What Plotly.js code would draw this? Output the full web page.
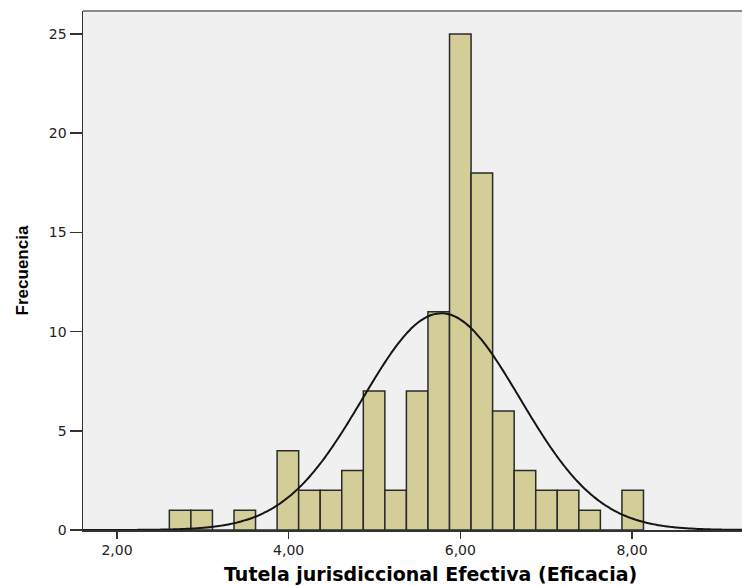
<!DOCTYPE html>
<html>
<head>
<meta charset="utf-8">
<script src="https://cdn.plot.ly/plotly-3.0.1.min.js"></script>
<style>html,body{margin:0;padding:0;background:#fff;}#chart{width:742px;height:586px;}</style>
</head>
<body>
<div id="chart"></div>
<script>
// ---- data ----
const binStart = 2.61;          // left edge of first bin
const binWidth = 0.2511;        // width of each bin
const counts = [1, 1, 0, 1, 0, 4, 2, 2, 3, 7, 2, 7, 11, 25, 18, 6, 3, 2, 2, 1, 0, 2];
const xTickVals = [2, 4, 6, 8];
const xTickText = ["2,00", "4,00", "6,00", "8,00"];
const yTickVals = [0, 5, 10, 15, 20, 25];
const xTitle = "Tutela jurisdiccional Efectiva (Eficacia)";
const yTitle = "Frecuencia";

// bin centres
const centers = counts.map((c, i) => binStart + binWidth * (i + 0.5));

// normal curve fitted to the histogram (mean / sd from the binned data)
const n = counts.reduce((a, b) => a + b, 0);
const mean = counts.reduce((s, c, i) => s + c * centers[i], 0) / n;
const sd = Math.sqrt(counts.reduce((s, c, i) => s + c * (centers[i] - mean) ** 2, 0) / (n - 1));
const xRange = [1.604, 9.282];
const curveX = [], curveY = [];
for (let k = 0; k <= 300; k++) {
  const x = xRange[0] + (xRange[1] - xRange[0]) * k / 300;
  curveX.push(x);
  curveY.push(n * binWidth / (sd * Math.sqrt(2 * Math.PI)) * Math.exp(-((x - mean) ** 2) / (2 * sd * sd)));
}

const traces = [
  {
    type: 'bar', x: centers, y: counts, width: binWidth,
    marker: {color: '#d3ce97', line: {color: '#2a2a2a', width: 1.5}},
    hoverinfo: 'x+y', showlegend: false
  },
  {
    type: 'scatter', mode: 'lines', x: curveX, y: curveY,
    line: {color: '#151515', width: 2, shape: 'spline'},
    hoverinfo: 'skip', showlegend: false
  }
];

const tickFont = {family: 'DejaVu Sans, Arial, sans-serif', size: 14, color: '#222'};

const layout = {
  width: 742, height: 586,
  margin: {l: 83, r: 0, t: 11, b: 56},
  paper_bgcolor: '#ffffff',
  plot_bgcolor: '#f0f0f0',
  bargap: 0,
  xaxis: {
    range: xRange, tickvals: xTickVals, ticktext: xTickText,
    ticks: 'outside', ticklen: 7, tickwidth: 1.5, tickcolor: '#333',
    showline: true, linecolor: '#333', linewidth: 1.5,
    showgrid: false, zeroline: false, tickfont: tickFont
  },
  yaxis: {
    range: [0, 26.16], tickvals: yTickVals,
    ticks: 'outside', ticklen: 12, tickwidth: 1.5, tickcolor: '#333',
    showline: true, linecolor: '#333', linewidth: 1.5,
    showgrid: false, zeroline: false, tickfont: tickFont,
    title: {text: yTitle, standoff: 16, font: {family: 'Liberation Sans, Arial, sans-serif', size: 17, color: '#000', weight: 'bold'}}
  },
  shapes: [
    {type: 'line', xref: 'paper', yref: 'paper', x0: 0, x1: 1, y0: 1, y1: 1, line: {color: '#8a8a8a', width: 2}}
  ],
  annotations: [
    {text: '<b>' + xTitle + '</b>', xref: 'paper', yref: 'paper', x: 0.528, y: 0, yshift: -44,
     xanchor: 'center', yanchor: 'middle', showarrow: false,
     font: {family: 'DejaVu Sans, Arial, sans-serif', size: 19, color: '#000'}}
  ]
};

Plotly.newPlot('chart', traces, layout, {displayModeBar: false, staticPlot: true});
</script>
</body>
</html>
